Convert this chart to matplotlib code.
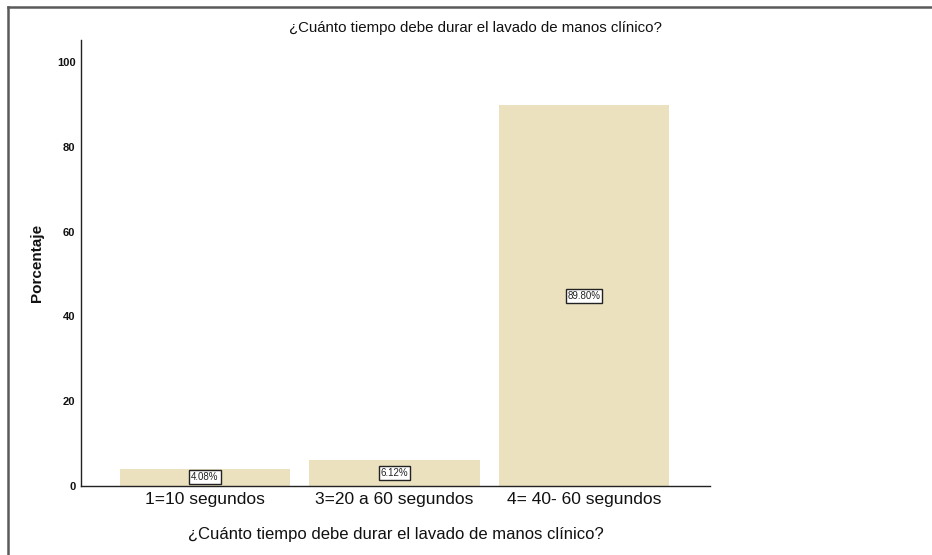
import matplotlib
matplotlib.use("Agg")
import matplotlib.pyplot as plt
from matplotlib.lines import Line2D

categories = ["1=10 segundos", "3=20 a 60 segundos", "4= 40- 60 segundos"]
values = [4.08, 6.12, 89.80]
labels = ["4.08%", "6.12%", "89.80%"]
yticks = [0, 20, 40, 60, 80, 100]
title = "¿Cuánto tiempo debe durar el lavado de manos clínico?"

narrow = ["Liberation Sans Narrow", "Liberation Sans", "DejaVu Sans"]
plt.rcParams['font.family'] = narrow

W, H = 932, 555
fig = plt.figure(figsize=(W / 100, H / 100), dpi=100)
ax = fig.add_axes([81 / W, 1 - 486 / H, (710 - 81) / W, (486 - 40) / H])

x = list(range(len(categories)))
ax.bar(x, values, width=0.9, color="#ebe1bf", edgecolor="none", zorder=2)
for xi, v, lab in zip(x, values, labels):
    ax.text(xi, v / 2, lab, ha="center", va="center", fontsize=7,
            color="#222222",
            bbox=dict(boxstyle="square,pad=0.2", facecolor="white",
                      edgecolor="#222222", linewidth=1.0), zorder=3)

ax.set_xlim(-0.654, 2.665)
ax.set_ylim(0, 105.2)
ax.set_xticks(x)
ax.set_xticklabels(categories, fontsize=12.5)
ax.set_yticks(yticks)
ax.set_yticklabels([str(t) for t in yticks], fontsize=8, fontweight="bold")
ax.tick_params(axis="both", length=0, pad=4, colors="#111111")
ax.tick_params(axis="x", pad=4)
for s in ["top", "right"]:
    ax.spines[s].set_visible(False)
for s in ["left", "bottom"]:
    ax.spines[s].set_color("#222222")
    ax.spines[s].set_linewidth(1.0)

ax.set_xlabel(title, fontsize=12, labelpad=15, color="#111111")
ax.set_ylabel("Porcentaje", fontsize=11, fontweight="bold", labelpad=9,
              color="#111111")
fig.text(475 / W, 1 - 28 / H, title, ha="center", va="center", fontsize=10.8,
         color="#111111")

# frame lines (top and left)
fig.add_artist(Line2D([8 / W, 1], [1 - 7 / H, 1 - 7 / H], color="#5a5a5a",
                      linewidth=1.8, transform=fig.transFigure))
fig.add_artist(Line2D([8 / W, 8 / W], [0, 1 - 7 / H], color="#5a5a5a",
                      linewidth=1.8, transform=fig.transFigure))

fig.savefig("out.png", dpi=100)
